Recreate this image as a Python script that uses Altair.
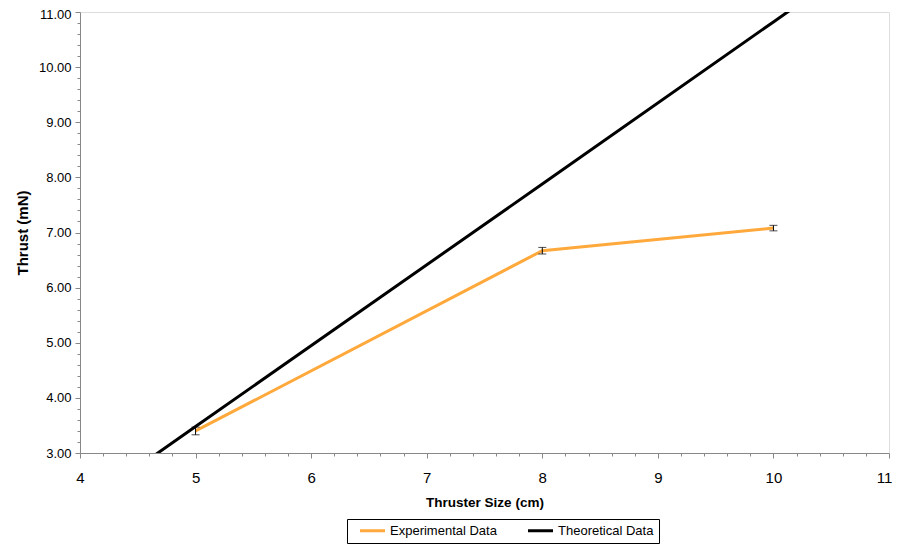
import altair as alt
import pandas as pd

# Experimental data (thruster size in cm, thrust in mN, error)
exp_size = [5, 8, 10]
exp_thrust = [3.40, 6.67, 7.08]
exp_err = [0.07, 0.06, 0.05]

# Theoretical line (extends beyond plot and is clipped)
theo_size = [4, 5, 8, 10, 11]
theo_thrust = [2.01, 3.48, 7.88, 10.82, 12.29]

series_names = ["Experimental Data", "Theoretical Data"]
series_colors = ["#FFA93C", "#000000"]

x_ticks = [round(4 + 0.2 * i, 1) for i in range(36)]
y_ticks = [round(3 + 0.2 * i, 1) for i in range(41)]

exp_df = pd.DataFrame({
    "size": exp_size,
    "thrust": exp_thrust,
    "lo": [t - e for t, e in zip(exp_thrust, exp_err)],
    "hi": [t + e for t, e in zip(exp_thrust, exp_err)],
    "series": series_names[0],
})
theo_df = pd.DataFrame({"size": theo_size, "thrust": theo_thrust, "series": series_names[1]})

FONT = "Liberation Sans"
IS_MAJOR = "abs(datum.value - round(datum.value)) < 0.01"

xscale = alt.Scale(domain=[4, 11], nice=False, zero=False)
yscale = alt.Scale(domain=[3, 11], nice=False, zero=False)

xaxis = alt.Axis(
    title="Thruster Size (cm)",
    values=x_ticks,
    labelExpr=IS_MAJOR + " ? format(datum.value, 'd') : ''",
    tickSize={"condition": {"test": IS_MAJOR, "value": 5}, "value": 3},
    labelOffset={"condition": {"test": "datum.value > 10.5", "value": -5}, "value": 0},
    labelFontSize=15,
    labelPadding=12,
    labelOverlap=False,
    titleFontSize=13.5,
    titlePadding=10,
    grid=False,
    labelFlush=False,
)
yaxis = alt.Axis(
    title="Thrust (mN)",
    values=y_ticks,
    labelExpr=IS_MAJOR + " ? format(datum.value, '.2f') : ''",
    tickSize={"condition": {"test": IS_MAJOR, "value": 5}, "value": 3},
    labelOffset={"condition": {"test": "datum.value > 10.5", "value": 2.5}, "value": 0},
    labelFontSize=13,
    labelPadding=4,
    labelOverlap=False,
    titleFontSize=15,
    titlePadding=8,
    grid=False,
    labelFlush=False,
)

X = alt.X("size:Q", scale=xscale, axis=xaxis)

color = alt.Color(
    "series:N",
    scale=alt.Scale(domain=series_names, range=series_colors),
    legend=alt.Legend(
        title=None,
        orient="none",
        direction="horizontal",
        legendX=267,
        legendY=507,
        symbolType="M-2.5,0H2.5",
        symbolSize=100,
        symbolStrokeWidth=3,
        symbolOffset=14,
        labelFontSize=13,
        labelFont=FONT,
        labelColor="black",
        labelOffset=11,
        columnPadding=23,
        padding=5,
        strokeColor="black",
        fillColor="white",
    ),
)

exp_line = alt.Chart(exp_df).mark_line(strokeWidth=3, clip=True).encode(
    x=X,
    y=alt.Y("thrust:Q", scale=yscale, axis=yaxis),
    color=color,
)
theo_line = alt.Chart(theo_df).mark_line(strokeWidth=3, clip=True).encode(
    x=X,
    y=alt.Y("thrust:Q", scale=yscale, axis=yaxis),
    color=color,
)
err_rule = alt.Chart(exp_df).mark_rule(color="black", strokeWidth=1).encode(
    x=X, y=alt.Y("lo:Q", scale=yscale, axis=yaxis), y2="hi:Q"
)
cap_lo = alt.Chart(exp_df).mark_tick(color="black", thickness=1, size=8, orient="horizontal").encode(
    x=X, y=alt.Y("lo:Q", scale=yscale, axis=yaxis)
)
cap_hi = alt.Chart(exp_df).mark_tick(color="black", thickness=1, size=8, orient="horizontal").encode(
    x=X, y=alt.Y("hi:Q", scale=yscale, axis=yaxis)
)

chart = alt.layer(exp_line, theo_line, err_rule, cap_lo, cap_hi).properties(
    width=809,
    height=441,
    autosize=alt.AutoSizeParams(type="none"),
    padding={"left": 72, "top": 4, "right": 3, "bottom": 91},
).configure_view(
    stroke="black", strokeWidth=1
).configure_axis(
    domainColor="black",
    tickColor="black",
    labelColor="black",
    titleColor="black",
    labelFont=FONT,
    titleFont=FONT,
    titleFontWeight="bold",
    labelOverlap=False,
).configure(background="white")

chart.save("out.html", embed_options={"renderer": "svg", "actions": False})
